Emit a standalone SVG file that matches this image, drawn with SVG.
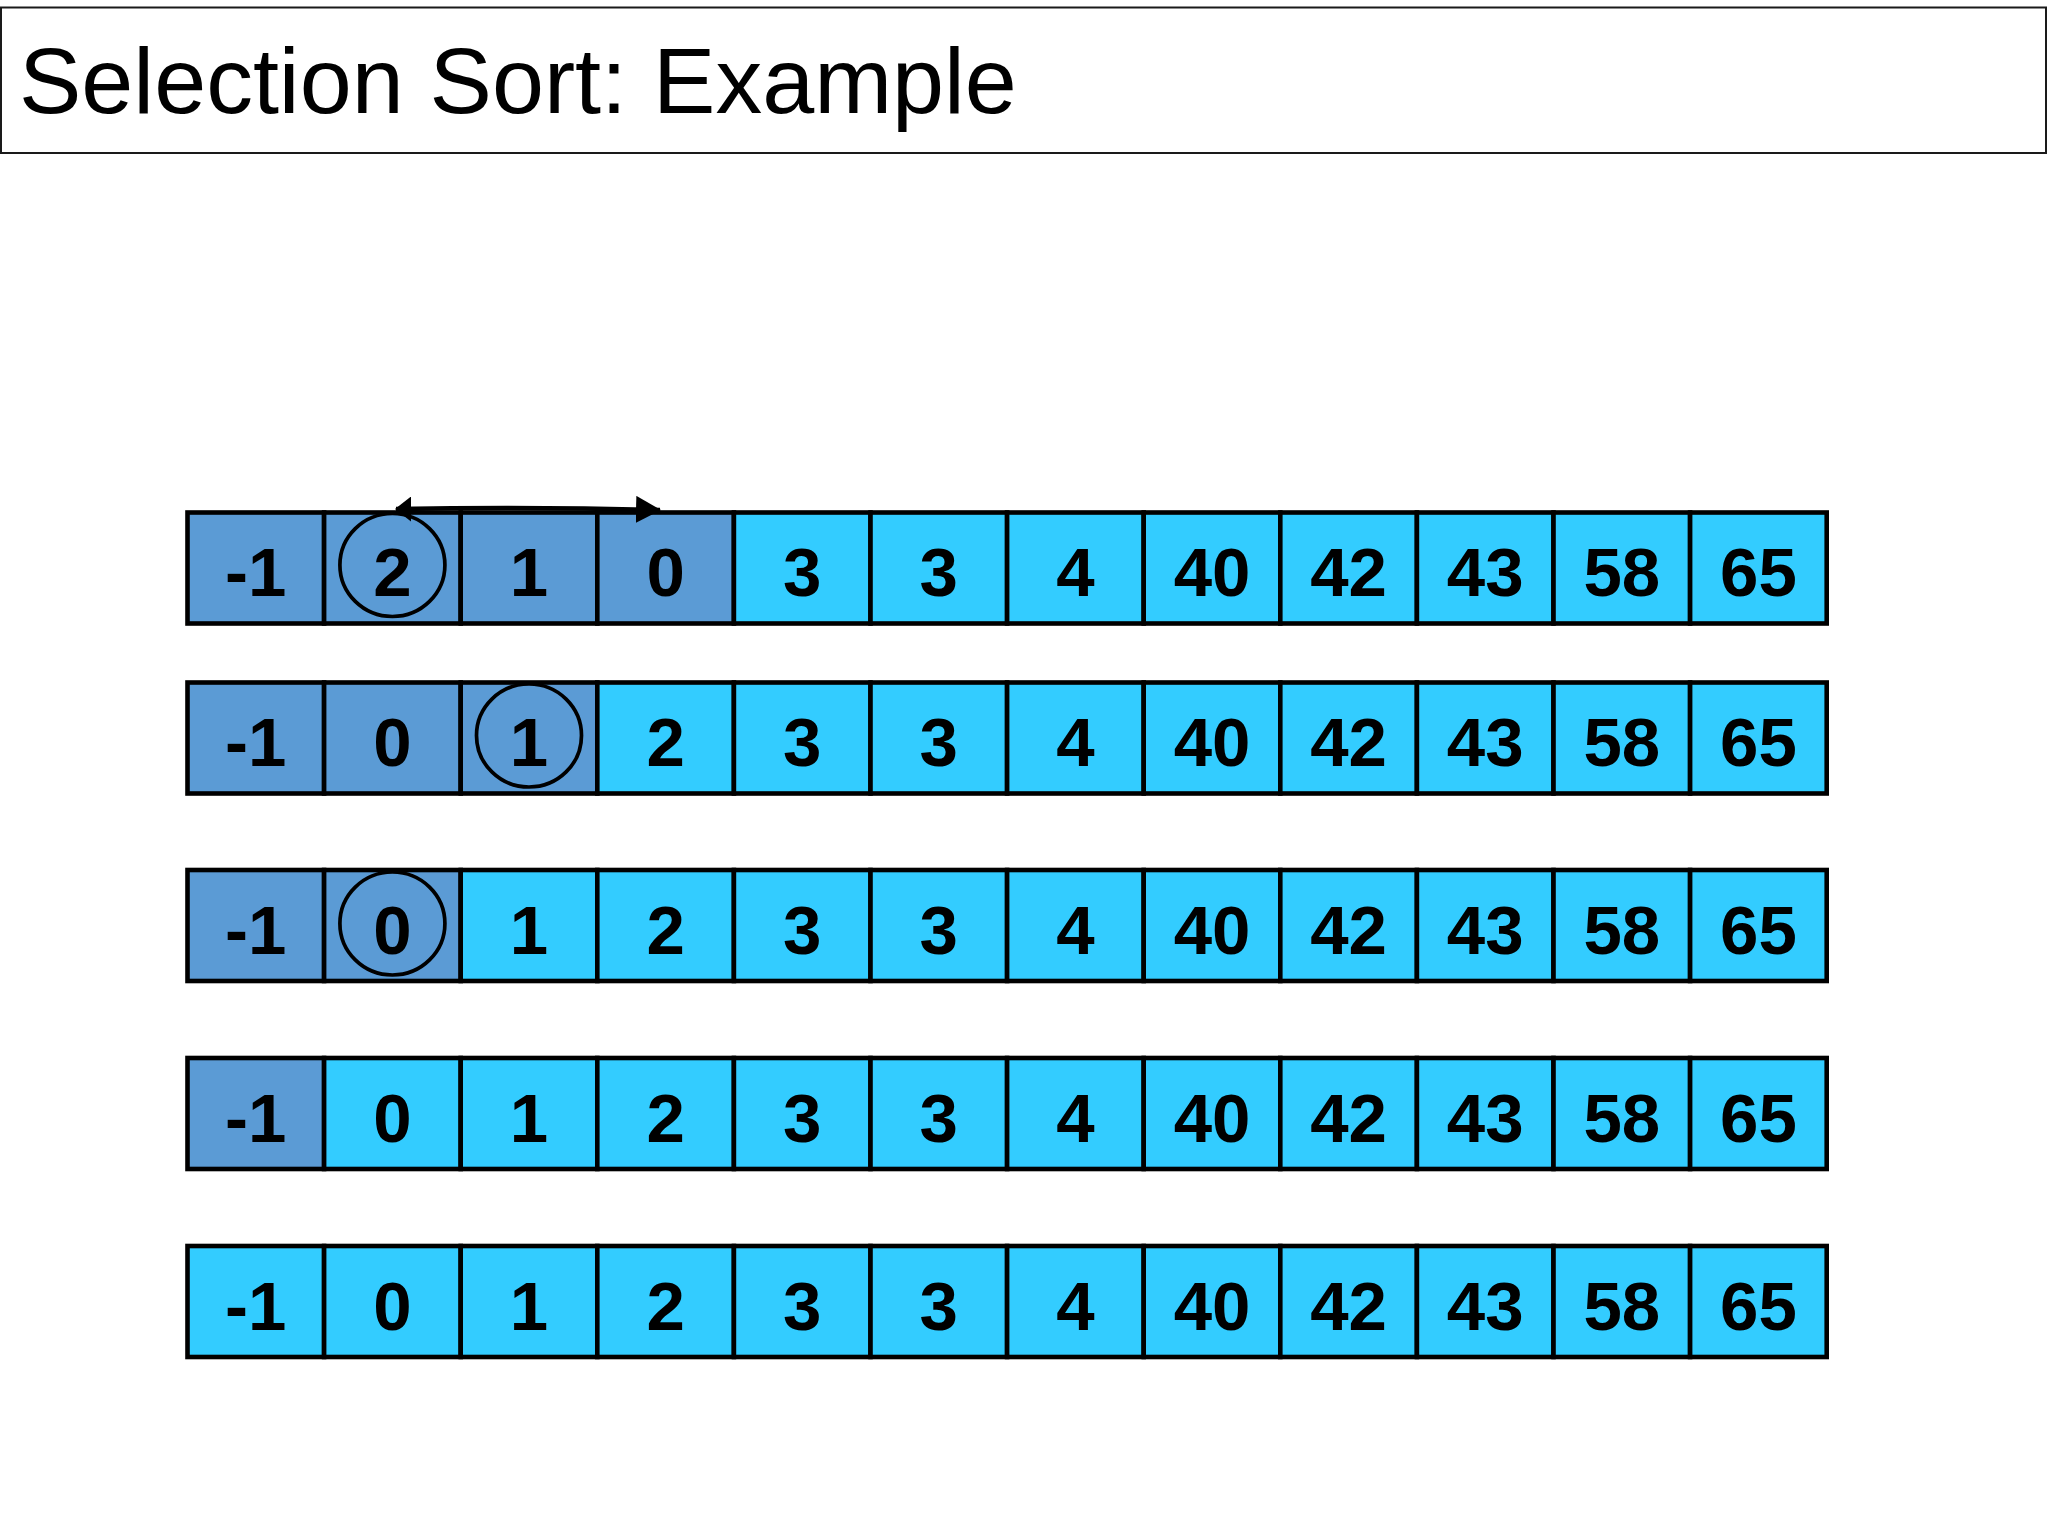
<svg xmlns="http://www.w3.org/2000/svg" width="2048" height="1536" viewBox="0 0 2048 1536">
<style>
.bg{fill:#ffffff}
.title-box{fill:#ffffff;stroke:#1a1a1a;stroke-width:2}
.title{font-family:"Liberation Sans",Arial,sans-serif;font-size:93.5px;fill:#000000}
.dk{fill:#5B9BD5;stroke:#000000;stroke-width:4.6}
.lt{fill:#33CCFF;stroke:#000000;stroke-width:4.6}
.num{font-family:"Liberation Sans",Arial,sans-serif;font-weight:bold;font-size:69px;fill:#000000;text-anchor:middle}
.ring{fill:none;stroke:#000000;stroke-width:3.7}
.arrow{fill:none;stroke:#000000;stroke-width:4.5}
</style>
<defs>
<marker id="headEnd" markerUnits="userSpaceOnUse" markerWidth="26" markerHeight="28" refX="24" refY="13.5" orient="auto" viewBox="0 0 26 28">
<path d="M0,0 L25,13.5 L0,27 z" fill="#000000"/>
</marker>
<marker id="headStart" markerUnits="userSpaceOnUse" markerWidth="18" markerHeight="26" refX="1" refY="12.5" orient="0" viewBox="0 0 18 26">
<path d="M0,12.5 L16,0 L16,25 z" fill="#000000"/>
</marker>
</defs>
<rect class="bg" x="0" y="0" width="2048" height="1536"/>
<g id="title">
<rect class="title-box" x="1" y="7.5" width="2045" height="145.5"/>
<text class="title" x="19" y="113">Selection Sort: Example</text>
</g>

<g id="row1">
<g id="r1c0"><rect class="dk" x="187.5" y="512.5" width="136.6" height="111"/><text class="num" x="255.8" y="596">-1</text></g>
<g id="r1c1"><rect class="dk" x="324.1" y="512.5" width="136.6" height="111"/><text class="num" x="392.4" y="596">2</text></g>
<g id="r1c2"><rect class="dk" x="460.7" y="512.5" width="136.6" height="111"/><text class="num" x="529" y="596">1</text></g>
<g id="r1c3"><rect class="dk" x="597.3" y="512.5" width="136.6" height="111"/><text class="num" x="665.6" y="596">0</text></g>
<g id="r1c4"><rect class="lt" x="733.9" y="512.5" width="136.6" height="111"/><text class="num" x="802.2" y="596">3</text></g>
<g id="r1c5"><rect class="lt" x="870.5" y="512.5" width="136.6" height="111"/><text class="num" x="938.8" y="596">3</text></g>
<g id="r1c6"><rect class="lt" x="1007.1" y="512.5" width="136.6" height="111"/><text class="num" x="1075.4" y="596">4</text></g>
<g id="r1c7"><rect class="lt" x="1143.7" y="512.5" width="136.6" height="111"/><text class="num" x="1212" y="596">40</text></g>
<g id="r1c8"><rect class="lt" x="1280.3" y="512.5" width="136.6" height="111"/><text class="num" x="1348.6" y="596">42</text></g>
<g id="r1c9"><rect class="lt" x="1416.9" y="512.5" width="136.6" height="111"/><text class="num" x="1485.2" y="596">43</text></g>
<g id="r1c10"><rect class="lt" x="1553.5" y="512.5" width="136.6" height="111"/><text class="num" x="1621.8" y="596">58</text></g>
<g id="r1c11"><rect class="lt" x="1690.1" y="512.5" width="136.6" height="111"/><text class="num" x="1758.4" y="596">65</text></g>
<g id="r1ring"><ellipse class="ring" cx="392.4" cy="565" rx="52.5" ry="51.5"/></g>
</g>

<g id="row2">
<g id="r2c0"><rect class="dk" x="187.5" y="682.5" width="136.6" height="111"/><text class="num" x="255.8" y="766">-1</text></g>
<g id="r2c1"><rect class="dk" x="324.1" y="682.5" width="136.6" height="111"/><text class="num" x="392.4" y="766">0</text></g>
<g id="r2c2"><rect class="dk" x="460.7" y="682.5" width="136.6" height="111"/><text class="num" x="529" y="766">1</text></g>
<g id="r2c3"><rect class="lt" x="597.3" y="682.5" width="136.6" height="111"/><text class="num" x="665.6" y="766">2</text></g>
<g id="r2c4"><rect class="lt" x="733.9" y="682.5" width="136.6" height="111"/><text class="num" x="802.2" y="766">3</text></g>
<g id="r2c5"><rect class="lt" x="870.5" y="682.5" width="136.6" height="111"/><text class="num" x="938.8" y="766">3</text></g>
<g id="r2c6"><rect class="lt" x="1007.1" y="682.5" width="136.6" height="111"/><text class="num" x="1075.4" y="766">4</text></g>
<g id="r2c7"><rect class="lt" x="1143.7" y="682.5" width="136.6" height="111"/><text class="num" x="1212" y="766">40</text></g>
<g id="r2c8"><rect class="lt" x="1280.3" y="682.5" width="136.6" height="111"/><text class="num" x="1348.6" y="766">42</text></g>
<g id="r2c9"><rect class="lt" x="1416.9" y="682.5" width="136.6" height="111"/><text class="num" x="1485.2" y="766">43</text></g>
<g id="r2c10"><rect class="lt" x="1553.5" y="682.5" width="136.6" height="111"/><text class="num" x="1621.8" y="766">58</text></g>
<g id="r2c11"><rect class="lt" x="1690.1" y="682.5" width="136.6" height="111"/><text class="num" x="1758.4" y="766">65</text></g>
<g id="r2ring"><ellipse class="ring" cx="529" cy="735.5" rx="52.5" ry="51.5"/></g>
</g>

<g id="row3">
<g id="r3c0"><rect class="dk" x="187.5" y="870" width="136.6" height="111"/><text class="num" x="255.8" y="953.5">-1</text></g>
<g id="r3c1"><rect class="dk" x="324.1" y="870" width="136.6" height="111"/><text class="num" x="392.4" y="953.5">0</text></g>
<g id="r3c2"><rect class="lt" x="460.7" y="870" width="136.6" height="111"/><text class="num" x="529" y="953.5">1</text></g>
<g id="r3c3"><rect class="lt" x="597.3" y="870" width="136.6" height="111"/><text class="num" x="665.6" y="953.5">2</text></g>
<g id="r3c4"><rect class="lt" x="733.9" y="870" width="136.6" height="111"/><text class="num" x="802.2" y="953.5">3</text></g>
<g id="r3c5"><rect class="lt" x="870.5" y="870" width="136.6" height="111"/><text class="num" x="938.8" y="953.5">3</text></g>
<g id="r3c6"><rect class="lt" x="1007.1" y="870" width="136.6" height="111"/><text class="num" x="1075.4" y="953.5">4</text></g>
<g id="r3c7"><rect class="lt" x="1143.7" y="870" width="136.6" height="111"/><text class="num" x="1212" y="953.5">40</text></g>
<g id="r3c8"><rect class="lt" x="1280.3" y="870" width="136.6" height="111"/><text class="num" x="1348.6" y="953.5">42</text></g>
<g id="r3c9"><rect class="lt" x="1416.9" y="870" width="136.6" height="111"/><text class="num" x="1485.2" y="953.5">43</text></g>
<g id="r3c10"><rect class="lt" x="1553.5" y="870" width="136.6" height="111"/><text class="num" x="1621.8" y="953.5">58</text></g>
<g id="r3c11"><rect class="lt" x="1690.1" y="870" width="136.6" height="111"/><text class="num" x="1758.4" y="953.5">65</text></g>
<g id="r3ring"><ellipse class="ring" cx="392.4" cy="923.5" rx="52.5" ry="51.5"/></g>
</g>

<g id="row4">
<g id="r4c0"><rect class="dk" x="187.5" y="1058" width="136.6" height="111"/><text class="num" x="255.8" y="1141.5">-1</text></g>
<g id="r4c1"><rect class="lt" x="324.1" y="1058" width="136.6" height="111"/><text class="num" x="392.4" y="1141.5">0</text></g>
<g id="r4c2"><rect class="lt" x="460.7" y="1058" width="136.6" height="111"/><text class="num" x="529" y="1141.5">1</text></g>
<g id="r4c3"><rect class="lt" x="597.3" y="1058" width="136.6" height="111"/><text class="num" x="665.6" y="1141.5">2</text></g>
<g id="r4c4"><rect class="lt" x="733.9" y="1058" width="136.6" height="111"/><text class="num" x="802.2" y="1141.5">3</text></g>
<g id="r4c5"><rect class="lt" x="870.5" y="1058" width="136.6" height="111"/><text class="num" x="938.8" y="1141.5">3</text></g>
<g id="r4c6"><rect class="lt" x="1007.1" y="1058" width="136.6" height="111"/><text class="num" x="1075.4" y="1141.5">4</text></g>
<g id="r4c7"><rect class="lt" x="1143.7" y="1058" width="136.6" height="111"/><text class="num" x="1212" y="1141.5">40</text></g>
<g id="r4c8"><rect class="lt" x="1280.3" y="1058" width="136.6" height="111"/><text class="num" x="1348.6" y="1141.5">42</text></g>
<g id="r4c9"><rect class="lt" x="1416.9" y="1058" width="136.6" height="111"/><text class="num" x="1485.2" y="1141.5">43</text></g>
<g id="r4c10"><rect class="lt" x="1553.5" y="1058" width="136.6" height="111"/><text class="num" x="1621.8" y="1141.5">58</text></g>
<g id="r4c11"><rect class="lt" x="1690.1" y="1058" width="136.6" height="111"/><text class="num" x="1758.4" y="1141.5">65</text></g>
</g>

<g id="row5">
<g id="r5c0"><rect class="lt" x="187.5" y="1246" width="136.6" height="111"/><text class="num" x="255.8" y="1329.5">-1</text></g>
<g id="r5c1"><rect class="lt" x="324.1" y="1246" width="136.6" height="111"/><text class="num" x="392.4" y="1329.5">0</text></g>
<g id="r5c2"><rect class="lt" x="460.7" y="1246" width="136.6" height="111"/><text class="num" x="529" y="1329.5">1</text></g>
<g id="r5c3"><rect class="lt" x="597.3" y="1246" width="136.6" height="111"/><text class="num" x="665.6" y="1329.5">2</text></g>
<g id="r5c4"><rect class="lt" x="733.9" y="1246" width="136.6" height="111"/><text class="num" x="802.2" y="1329.5">3</text></g>
<g id="r5c5"><rect class="lt" x="870.5" y="1246" width="136.6" height="111"/><text class="num" x="938.8" y="1329.5">3</text></g>
<g id="r5c6"><rect class="lt" x="1007.1" y="1246" width="136.6" height="111"/><text class="num" x="1075.4" y="1329.5">4</text></g>
<g id="r5c7"><rect class="lt" x="1143.7" y="1246" width="136.6" height="111"/><text class="num" x="1212" y="1329.5">40</text></g>
<g id="r5c8"><rect class="lt" x="1280.3" y="1246" width="136.6" height="111"/><text class="num" x="1348.6" y="1329.5">42</text></g>
<g id="r5c9"><rect class="lt" x="1416.9" y="1246" width="136.6" height="111"/><text class="num" x="1485.2" y="1329.5">43</text></g>
<g id="r5c10"><rect class="lt" x="1553.5" y="1246" width="136.6" height="111"/><text class="num" x="1621.8" y="1329.5">58</text></g>
<g id="r5c11"><rect class="lt" x="1690.1" y="1246" width="136.6" height="111"/><text class="num" x="1758.4" y="1329.5">65</text></g>
</g>

<g id="connectors">
<path class="arrow" d="M396,509 Q530,506.5 660,510" marker-start="url(#headStart)" marker-end="url(#headEnd)"/>
</g>
</svg>
